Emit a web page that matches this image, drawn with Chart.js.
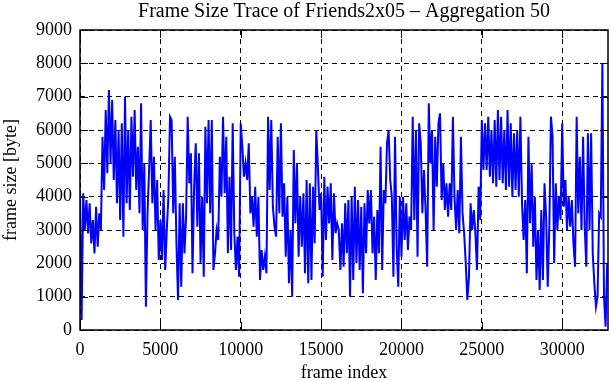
<!DOCTYPE html>
<html>
<head>
<meta charset="utf-8">
<title>Frame Size Trace of Friends2x05</title>
<script src="https://cdn.jsdelivr.net/npm/chart.js@4.4.1/dist/chart.umd.min.js"></script>
<style>
  html, body { margin: 0; padding: 0; background: #fff; }
  #wrap { width: 611px; height: 380px; }
</style>
</head>
<body>
<div id="wrap"><canvas id="trace" width="611" height="380"></canvas></div>
<script>
// aggregated frame sizes (byte), one value read every 100 frames
var frameStep = 100;

var sizes0to9900 = [
    4200, 300, 4100, 3000, 3900, 2900, 3800, 2600, 3300, 2300,
    3700, 2500, 3500, 3000, 5800, 4200, 6600, 4700, 7200, 5000,
    6900, 4500, 6300, 3800, 6000, 3300, 6200, 2800, 7000, 3800,
    6000, 3600, 6400, 4600, 6600, 4200, 5500, 3500, 6800, 3000,
    5000, 700, 3500, 4800, 6300, 3800, 5200, 3000, 4500, 2100,
    3300, 2100, 4200, 1800, 3000, 4000, 6400, 6300, 3500, 5200,
    2600, 900, 3800, 1300, 3800, 2300, 3400, 6400, 4400, 5300,
    1700, 4300, 5600, 3100, 5300, 2000, 4000, 1600, 6100, 3800,
    6300, 3500, 6300, 1800, 2300, 3000, 2700, 5200, 4000, 6400,
    4100, 5800, 2300, 4600, 2400, 6200, 2900, 1800, 2800, 1600
];

var sizes10000to19900 = [
    6200, 5500, 4600, 5000, 4500, 5600, 3500, 4000, 3100, 4300,
    2800, 4000, 1500, 2400, 1800, 2200, 1700, 6400, 4200, 6300,
    3700, 3100, 2800, 5800, 3500, 6200, 3400, 4400, 2200, 4000,
    1400, 3000, 1000, 5400, 3200, 5000, 2200, 4000, 2500, 4100,
    1700, 4500, 1400, 4400, 1500, 4300, 2600, 6000, 4900, 3600,
    4100, 1600, 4600, 2700, 4300, 3200, 4400, 2100, 4100, 2900,
    3200, 3000, 1800, 3200, 1900, 3800, 2300, 3900, 1000, 4000,
    1500, 4300, 2000, 3900, 1800, 3700, 1100, 3800, 2300, 4200,
    3200, 4200, 2300, 3400, 1500, 3600, 2300, 5500, 1800, 4200,
    3800, 5600, 6000, 4500, 4000, 1600, 5800, 2500, 1300, 4000
];

var sizes20000to32800 = [
    2200, 4000, 2700, 3800, 2400, 3400, 3000, 6400, 3300, 6000,
    2200, 6200, 5600, 3500, 4800, 3600, 1900, 6800, 5000, 6000,
    3000, 5800, 4300, 6200, 6500, 3900, 5000, 3600, 4400, 3400,
    4400, 3600, 6400, 4000, 3000, 4200, 2900, 5800, 3500, 2900,
    2000, 900, 1600, 3800, 3000, 3600, 2900, 1800, 4300, 3300,
    6300, 4800, 6200, 4800, 6400, 4600, 6000, 4400, 6300, 4300,
    6600, 4500, 6400, 4400, 6000, 4200, 6600, 4300, 6200, 4000,
    5900, 4200, 6000, 4000, 6400, 3800, 2700, 3900, 1700, 5800,
    3200, 5000, 2500, 4000, 1500, 3000, 1200, 3600, 1500, 4400,
    3400, 1300, 3100, 6400, 5800, 2000, 4400, 3000, 4000, 3300,
    6200, 3700, 4500, 3000, 4000, 3100, 3900, 2600, 1900, 6400,
    3500, 5200, 3000, 5800, 3100, 1900, 5900, 3000, 5900, 2300,
    1400, 700, 1000, 3500, 3400, 8000, 1000, 100, 2000
];

var xTickValues = [0, 5000, 10000, 15000, 20000, 25000, 30000];
var yTickValues = [0, 1000, 2000, 3000, 4000, 5000, 6000, 7000, 8000, 9000];

var frameSizes = sizes0to9900.concat(sizes10000to19900, sizes20000to32800);
var points = [];
for (var i = 0; i < frameSizes.length; i++) {
    points.push({ x: i * frameStep, y: frameSizes[i] });
}

var serif = "'Liberation Serif', 'Times New Roman', serif";

// solid box round the plot and inward tick marks, like gnuplot draws them
var frameBox = {
    id: 'frameBox',
    afterDraw: function(chart) {
        var ctx = chart.ctx;
        var a = chart.chartArea;
        var xs = chart.scales.x, ys = chart.scales.y;
        ctx.save();
        ctx.strokeStyle = '#000';
        ctx.lineWidth = 1;
        ctx.beginPath();
        xs.ticks.forEach(function(t) {
            var px = Math.round(xs.getPixelForValue(t.value)) + 0.5;
            ctx.moveTo(px, a.bottom); ctx.lineTo(px, a.bottom - 8);
            ctx.moveTo(px, a.top); ctx.lineTo(px, a.top + 8);
        });
        ys.ticks.forEach(function(t) {
            var py = Math.round(ys.getPixelForValue(t.value)) + 0.5;
            ctx.moveTo(a.left, py); ctx.lineTo(a.left + 8, py);
            ctx.moveTo(a.right, py); ctx.lineTo(a.right - 8, py);
        });
        ctx.stroke();
        ctx.lineWidth = 1.5;
        ctx.strokeRect(a.left, a.top, a.right - a.left, a.bottom - a.top);
        ctx.restore();
    }
};

var chart = new Chart(document.getElementById('trace'), {
    type: 'line',
    data: {
        datasets: [{
            label: 'frame size',
            data: points,
            borderColor: '#0000ff',
            borderWidth: 2,
            pointRadius: 0,
            tension: 0,
            fill: false
        }]
    },
    options: {
        responsive: false,
        animation: false,
        layout: { padding: { left: 0, right: 3, top: 0, bottom: 0 } },
        plugins: {
            legend: { display: false },
            tooltip: { enabled: false },
            title: {
                display: true,
                fullSize: false,
                text: 'Frame Size Trace of Friends2x05 \u2013 Aggregation 50',
                color: '#000',
                font: { family: serif, size: 20, weight: 'normal', lineHeight: 1.1 },
                padding: { top: 1, bottom: 7 }
            }
        },
        scales: {
            x: {
                type: 'linear',
                min: 0,
                max: 32850,
                afterBuildTicks: function(scale) {
                    scale.ticks = xTickValues.map(function(v) { return { value: v }; });
                },
                afterFit: function(scale) { scale.height = 50; },
                grid: { color: '#000', lineWidth: 1, drawTicks: false },
                border: { display: false, dash: [5, 4] },
                ticks: {
                    color: '#000',
                    font: { family: serif, size: 18 },
                    padding: 9,
                    maxRotation: 0,
                    callback: function(v) { return String(v); }
                },
                title: {
                    display: true,
                    text: 'frame index',
                    color: '#000',
                    font: { family: serif, size: 18, lineHeight: 0.7 },
                    padding: 0
                }
            },
            y: {
                min: 0,
                max: 9000,
                afterBuildTicks: function(scale) {
                    scale.ticks = yTickValues.map(function(v) { return { value: v }; });
                },
                afterFit: function(scale) { scale.width = 80; },
                grid: { color: '#000', lineWidth: 1, drawTicks: false },
                border: { display: false, dash: [5, 4] },
                ticks: {
                    color: '#000',
                    font: { family: serif, size: 18 },
                    padding: 8,
                    callback: function(v) { return String(v); }
                },
                title: {
                    display: true,
                    text: 'frame size [byte]',
                    color: '#000',
                    font: { family: serif, size: 18, lineHeight: 1.2 },
                    padding: 0
                }
            }
        }
    },
    plugins: [frameBox]
});
</script>
</body>
</html>
